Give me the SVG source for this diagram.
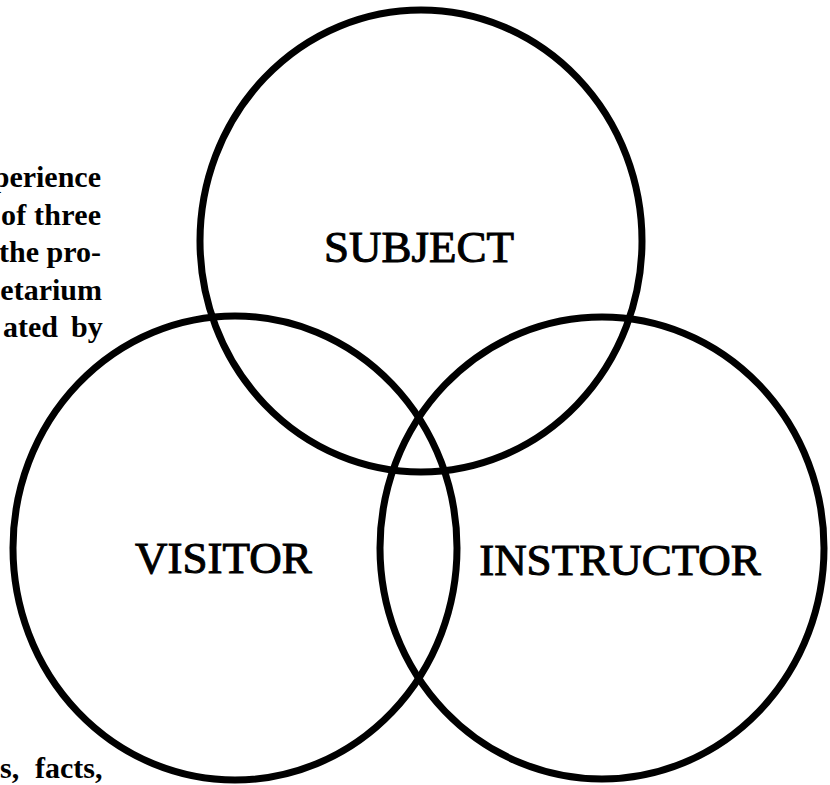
<svg xmlns="http://www.w3.org/2000/svg" width="830" height="785" viewBox="0 0 830 785">
<style>
.ring{fill:none;stroke:#000;stroke-width:7}
.lbl{font-family:"Liberation Serif","Times New Roman",serif;font-size:45px;fill:#000;stroke:#000;stroke-width:1}
.body{font-family:"Liberation Serif","Times New Roman",serif;font-size:30px;font-weight:bold;fill:#000}
</style>
<rect width="830" height="785" fill="#fff"/>
<g id="text-fragments">
<text class="body" x="101" y="187" text-anchor="end">perience</text>
<text class="body" x="1" y="225" textLength="100">of three</text>
<text class="body" x="101" y="262" text-anchor="end">the pro-</text>
<text class="body" x="102" y="300" text-anchor="end">etarium</text>
<text class="body" x="3" y="337">ated</text>
<text class="body" x="71" y="337">by</text>
<text class="body" x="0" y="778">s,</text>
<text class="body" x="35" y="778">facts,</text>
</g>
<g id="subject">
<ellipse class="ring" cx="421" cy="241" rx="221" ry="231"/>
<text class="lbl" x="419" y="262" text-anchor="middle">SUBJECT</text>
</g>
<g id="visitor">
<ellipse class="ring" cx="235" cy="548" rx="222" ry="232"/>
<text class="lbl" x="135" y="573">VISITOR</text>
</g>
<g id="instructor">
<ellipse class="ring" cx="602" cy="548" rx="222" ry="231"/>
<text class="lbl" x="620" y="575" text-anchor="middle">INSTRUCTOR</text>
</g>
<g id="connectors"></g>
</svg>
